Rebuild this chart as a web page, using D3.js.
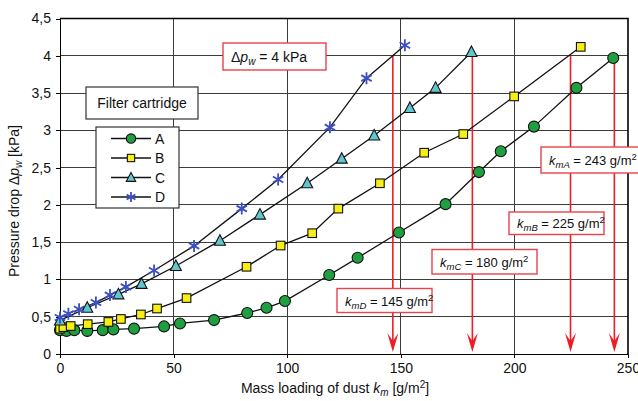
<!DOCTYPE html>
<meta charset="utf-8">
<style>
body { margin:0; background:#fff; }
svg text { font-family: "Liberation Sans", Arial, sans-serif; }
.grid line { stroke:#3c3c3c; stroke-width:1px; shape-rendering:crispEdges; }
.axis path, .axis line { stroke:#000; shape-rendering:crispEdges; }
.axis text { font-size:14px; fill:#111; }
</style>
<body>
<svg width="638" height="401"></svg>
<script src="https://d3js.org/d3.v7.min.js"></script>
<script>

// series A..D
var aX = [0,2.9,6.3,12,18.8,23.5,32.6,45.8,52.8,67.8,82.4,90.9,99,118.5,131,149.2,169.7,184.4,194,208.6,227.3,243.5];
var aY = [0.32,0.31,0.32,0.31,0.32,0.33,0.34,0.37,0.41,0.455,0.55,0.62,0.71,1.06,1.29,1.63,2.01,2.44,2.72,3.05,3.57,3.97];
var bX = [0,1.5,4.7,12.2,21.3,26.8,35.6,42.7,55.7,82.1,97.1,111,122.5,140.8,160.3,177.5,199.9,229.2];
var bY = [0.34,0.36,0.375,0.40,0.43,0.47,0.53,0.61,0.75,1.17,1.455,1.62,1.95,2.29,2.70,2.95,3.455,4.12];
var cX = [0,12,25.7,35.9,51,70.4,88,108.8,124,138.3,154,165.3,181.1];
var cY = [0.45,0.62,0.80,0.94,1.18,1.52,1.87,2.29,2.62,2.93,3.30,3.57,4.05];
var dX = [0,3.7,8.4,15.8,22,29,41.4,59,80,96,118.8,134.9,151.8];
var dY = [0.49,0.54,0.60,0.69,0.79,0.90,1.12,1.45,1.95,2.34,3.04,3.70,4.14];

var seriesNames = ["A","B","C","D"];
var kmLabels = [243,225,180,145];          // A, B, C, D
var kmArrowX = [244,224.7,181.5,146.5];    // where the red arrows fall
var dpLimit = 4;

var xTicks = [0,50,100,150,200,250];
var yTicks = [0,0.5,1,1.5,2,2.5,3,3.5,4,4.5];

var svg = d3.select("svg");
var x = d3.scaleLinear().domain([0,250]).range([60,628]);
var y = d3.scaleLinear().domain([0,4.5]).range([354,18.5]);

// grid
var grid = svg.append("g").attr("class","grid");
grid.selectAll(".gx").data(xTicks.slice(1,-1)).enter().append("line")
  .attr("x1",d=>x(d)).attr("x2",d=>x(d)).attr("y1",y(0)).attr("y2",y(4.5));
grid.selectAll(".gy").data(yTicks.slice(1,-1)).enter().append("line")
  .attr("x1",x(0)).attr("x2",x(250)).attr("y1",d=>y(d)).attr("y2",d=>y(d));

// axes
var fmt = function(d){ return String(d).replace(".",","); };
svg.append("g").attr("class","axis")
  .attr("transform","translate(0,"+y(0)+")")
  .call(d3.axisBottom(x).tickValues(xTicks).tickSize(4).tickSizeOuter(0).tickPadding(5))
  .call(g=>g.select(".domain").attr("stroke-width",1.6));
svg.append("g").attr("class","axis")
  .attr("transform","translate("+x(0)+",0)")
  .call(d3.axisLeft(y).tickValues(yTicks).tickFormat(fmt).tickSize(4).tickSizeOuter(0).tickPadding(5))
  .call(g=>g.select(".domain").attr("stroke-width",1.6));
// frame top/right
svg.append("path")
  .attr("d","M"+x(0)+","+y(4.5)+"H"+x(250)+"V"+y(0))
  .attr("fill","none").attr("stroke","#000").attr("stroke-width",1.6);

// red arrows
var red = "#ee1c25";
var arrows = svg.append("g");
kmArrowX.forEach(function(v){
  var tip = y(0) - 2;
  arrows.append("line").attr("x1",x(v)).attr("x2",x(v)).attr("y1",y(dpLimit)).attr("y2",tip-8)
    .attr("stroke",red).attr("stroke-width",1.6);
  arrows.append("path")
    .attr("d","M"+x(v)+","+tip+" L"+(x(v)-5.5)+","+(tip-19)+" L"+x(v)+","+(tip-11)+" L"+(x(v)+5.5)+","+(tip-19)+"Z")
    .attr("fill",red);
});

// curves
var series = [
  {xs:aX, ys:aY, fill:"#1fa040", shape:"circle"},
  {xs:bX, ys:bY, fill:"#f7ee12", shape:"square"},
  {xs:cX, ys:cY, fill:"#62c6cf", shape:"triangle"},
  {xs:dX, ys:dY, fill:"#3c4fc4", shape:"star"}
];
var line = d3.line().x(d=>x(d[0])).y(d=>y(d[1]));

function drawMarker(g, shape, fill, cx, cy, s){
  if (shape==="circle") {
    g.append("circle").attr("cx",cx).attr("cy",cy).attr("r",5.5*s)
      .attr("fill",fill).attr("stroke","#111").attr("stroke-width",1.1);
  } else if (shape==="square") {
    g.append("rect").attr("x",cx-4.3*s).attr("y",cy-4.3*s).attr("width",8.6*s).attr("height",8.6*s)
      .attr("fill",fill).attr("stroke","#111").attr("stroke-width",1.1);
  } else if (shape==="triangle") {
    g.append("path").attr("d","M"+cx+","+(cy-6*s)+" L"+(cx+5.5*s)+","+(cy+4.5*s)+" L"+(cx-5.5*s)+","+(cy+4.5*s)+"Z")
      .attr("fill",fill).attr("stroke","#111").attr("stroke-width",1.1);
  } else {
    var r = 6*s, p = "";
    [90,30,150].forEach(function(a){
      var t = a*Math.PI/180;
      p += "M"+(cx-r*Math.cos(t))+","+(cy-r*Math.sin(t))+"L"+(cx+r*Math.cos(t))+","+(cy+r*Math.sin(t));
    });
    g.append("path").attr("d",p).attr("stroke",fill).attr("stroke-width",1.8).attr("fill","none");
  }
}

series.forEach(function(s){
  var pts = s.xs.map((v,i)=>[v,s.ys[i]]);
  svg.append("path").datum(pts).attr("d",line)
    .attr("fill","none").attr("stroke","#111").attr("stroke-width",1.3);
});
series.forEach(function(s){
  var g = svg.append("g");
  s.xs.forEach(function(v,i){ drawMarker(g, s.shape, s.fill, x(v), y(s.ys[i]), 1); });
});

// boxes with red frames
function redBox(x0,y0,w,h){
  svg.append("rect").attr("x",x0).attr("y",y0).attr("width",w).attr("height",h)
    .attr("fill","#fff").attr("stroke","#e8424a").attr("stroke-width",1.4);
}
function kmText(tx,ty,sub,val){
  var t = svg.append("text").attr("x",tx).attr("y",ty).attr("font-size",13).attr("fill","#111");
  t.append("tspan").attr("font-style","italic").text("k");
  t.append("tspan").attr("font-style","italic").attr("font-size",9.5).attr("dy",3).text("m"+sub);
  t.append("tspan").attr("dy",-3).text(" = "+val+" g/m");
  t.append("tspan").attr("font-size",9.5).attr("dy",-5).text("2");
}

redBox(223,43,103,27);
var dp = svg.append("text").attr("x",231).attr("y",62).attr("font-size",14).attr("fill","#111");
dp.append("tspan").text("\u0394");
dp.append("tspan").attr("font-style","italic").text("p");
dp.append("tspan").attr("font-style","italic").attr("font-size",10).attr("dy",3).text("w");
dp.append("tspan").attr("dy",-3).text(" = "+dpLimit+" kPa");

var boxes = [[541,147,100,26],[509,212,95,22.5],[432,249.5,105,24.5],[337,288.5,95,24]];
boxes.forEach(function(b,i){
  redBox(b[0],b[1],b[2],b[3]);
  kmText(b[0]+8, b[1]+b[3]/2+5, seriesNames[i], kmLabels[i]);
});

// legend
svg.append("rect").attr("x",86).attr("y",87).attr("width",112).attr("height",32)
  .attr("fill","#fff").attr("stroke","#333").attr("stroke-width",1.2);
svg.append("text").attr("x",142).attr("y",108).attr("text-anchor","middle")
  .attr("font-size",14).attr("fill","#111").text("Filter cartridge");
svg.append("rect").attr("x",96).attr("y",127).attr("width",83).attr("height",81)
  .attr("fill","#fff").attr("stroke","#333").attr("stroke-width",1.2);
series.forEach(function(s,i){
  var ly = 138.5 + i*19.5;
  svg.append("line").attr("x1",111).attr("x2",151).attr("y1",ly).attr("y2",ly)
    .attr("stroke","#111").attr("stroke-width",1.3);
  drawMarker(svg, s.shape, s.fill, 131, ly, 0.85);
  svg.append("text").attr("x",155).attr("y",ly+5).attr("font-size",14).attr("fill","#111").text(seriesNames[i]);
});

// axis titles
var xt = svg.append("text").attr("x",335).attr("y",393).attr("text-anchor","middle")
  .attr("font-size",14).attr("fill","#111");
xt.append("tspan").text("Mass loading of dust ");
xt.append("tspan").attr("font-style","italic").text("k");
xt.append("tspan").attr("font-style","italic").attr("font-size",10).attr("dy",3).text("m");
xt.append("tspan").attr("dy",-3).text(" [g/m");
xt.append("tspan").attr("font-size",10).attr("dy",-5).text("2");
xt.append("tspan").attr("dy",5).text("]");

var yt = svg.append("text").attr("transform","translate(19,201) rotate(-90)")
  .attr("text-anchor","middle").attr("font-size",14).attr("fill","#111");
yt.append("tspan").text("Pressure drop \u0394");
yt.append("tspan").attr("font-style","italic").text("p");
yt.append("tspan").attr("font-style","italic").attr("font-size",10).attr("dy",3).text("w");
yt.append("tspan").attr("dy",-3).text(" [kPa]");
</script>
</body>
